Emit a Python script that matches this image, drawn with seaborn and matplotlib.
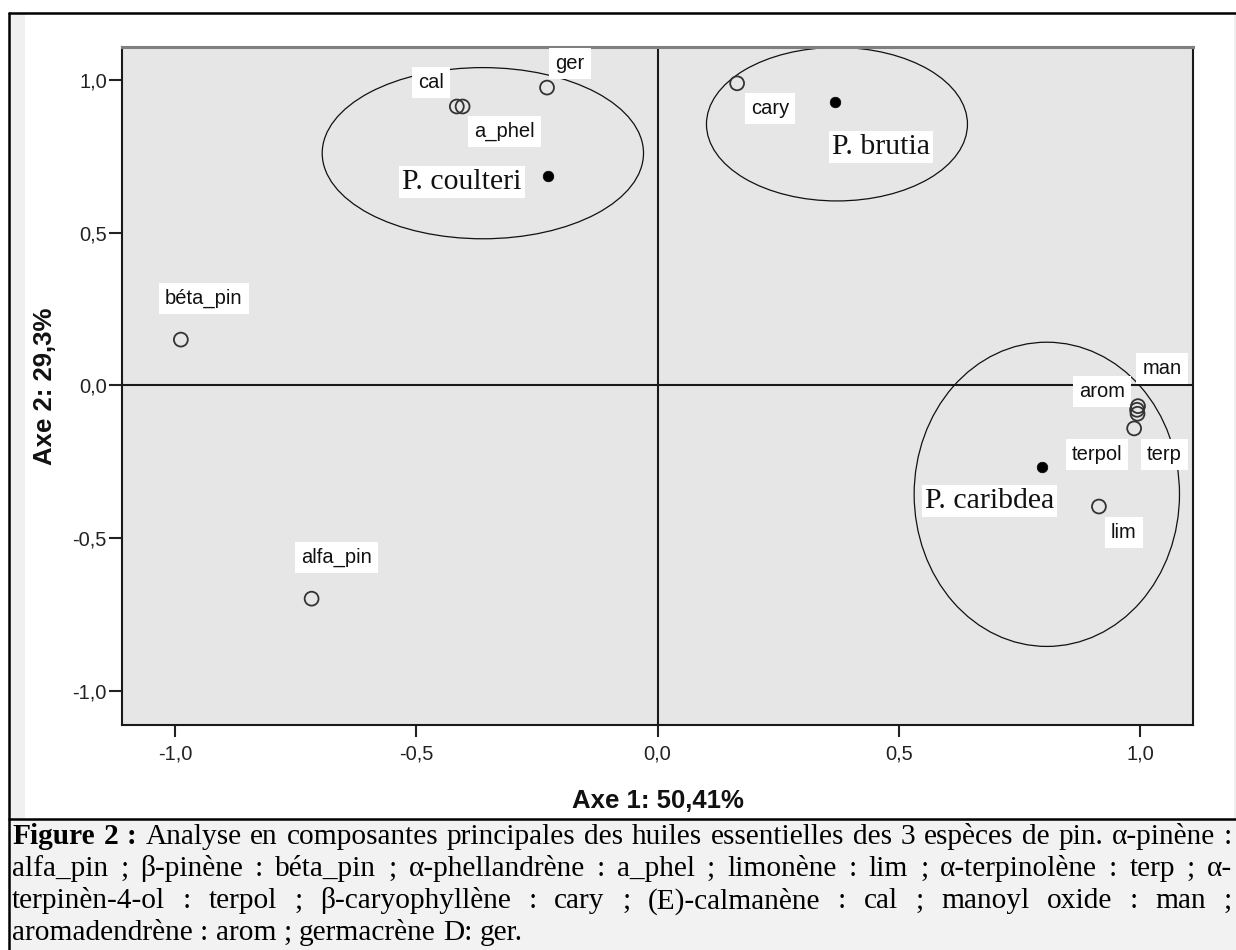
import matplotlib
matplotlib.use('Agg')
import matplotlib.pyplot as plt
import seaborn as sns
import pandas as pd
from matplotlib.patches import Ellipse, Rectangle
from matplotlib.lines import Line2D
from matplotlib.ticker import FuncFormatter, FixedLocator

# --- données ---
VAR_NAMES = ['alfa_pin', 'béta_pin', 'a_phel', 'lim', 'terp', 'terpol',
             'cary', 'cal', 'man', 'arom', 'ger']
VAR_AXE1 = [-0.717, -0.988, -0.404, 0.915, 0.995, 0.988,
            0.165, -0.416, 0.996, 0.994, -0.229]
VAR_AXE2 = [-0.699, 0.150, 0.914, -0.397, -0.093, -0.141,
            0.990, 0.914, -0.068, -0.080, 0.976]

ESPECES = ['P. coulteri', 'P. brutia', 'P. caribdea']
ESP_AXE1 = [-0.227, 0.367, 0.796]
ESP_AXE2 = [0.686, 0.929, -0.266]

# ellipses de regroupement (centre, largeur, hauteur en unités des axes)
ELL_X = [-0.362, 0.372, 0.807]
ELL_Y = [0.761, 0.856, -0.357]
ELL_W = [0.666, 0.541, 0.550]
ELL_H = [0.561, 0.503, 0.997]

TICKS = [-1.0, -0.5, 0.0, 0.5, 1.0]

CAPTION = [
    ([('Figure', 'bold'), ('2', 'bold'), (':', 'bold')] +
     [(w, 'normal') for w in 'Analyse en composantes principales des huiles '
      'essentielles des 3 espèces de pin. α-pinène :'.split()], True),
    ([(w, 'normal') for w in 'alfa_pin ; β-pinène : béta_pin ; α-phellandrène : '
      'a_phel ; limonène : lim ; α-terpinolène : terp ; α-'.split()], True),
    ([(w, 'normal') for w in 'terpinèn-4-ol : terpol ; β-caryophyllène : cary ; '
      '(E)-calmanène : cal ; manoyl oxide : man ;'.split()], True),
    ([(w, 'normal') for w in 'aromadendrène : arom ; germacrène D: ger.'.split()], False),
]

# décalages des étiquettes (pixels) par rapport au point
VAR_OFF = {'alfa_pin': (25, 41), 'béta_pin': (23, 41), 'a_phel': (42, -25),
           'lim': (25, -26), 'terp': (27, -41), 'terpol': (-37, -26),
           'cary': (33, -25), 'cal': (-26, 24), 'man': (24, 38),
           'arom': (-35, 18), 'ger': (23, 24)}
ESP_OFF = {'P. coulteri': (-86, -6), 'P. brutia': (46, -45), 'P. caribdea': (-52, -34)}

W, H, DPI = 1236, 950, 100
PX = 72 / DPI
SERIF = ['Liberation Serif', 'DejaVu Serif']

sns.set_style('ticks')
plt.rcParams['font.family'] = ['Liberation Sans', 'DejaVu Sans']

df_var = pd.DataFrame({'nom': VAR_NAMES, 'axe1': VAR_AXE1, 'axe2': VAR_AXE2})
df_esp = pd.DataFrame({'espece': ESPECES, 'axe1': ESP_AXE1, 'axe2': ESP_AXE2})

fig = plt.figure(figsize=(W / DPI, H / DPI), dpi=DPI)
fig.patch.set_facecolor('white')


def fx(px): return px / W
def fy(py): return 1 - py / H


# cadre de la figure (sous les axes)
for rect in [(9, 13, 16, 806), (1234, 13, 2, 806), (9, 819, W - 9, H - 819)]:
    x0, y0, rw, rh = rect
    fig.patches.append(Rectangle((fx(x0), fy(y0 + rh)), fx(rw), rh / H,
                                 transform=fig.transFigure,
                                 fc='#f0f0f0' if y0 < 819 else '#f2f2f2',
                                 ec='none', zorder=-2))
for xs, ys in [([9, W], [13, 13]), ([9, 9], [13, H]), ([9, W], [819, 819])]:
    fig.lines.append(Line2D([fx(v) for v in xs], [fy(v) for v in ys],
                            transform=fig.transFigure, color='black', lw=1.8,
                            zorder=-1))

ax = fig.add_axes([fx(122), fy(725), fx(1193) - fx(122), fy(47) - fy(725)])
ax.set_facecolor('#e6e6e6')

for cx, cy, w, h in zip(ELL_X, ELL_Y, ELL_W, ELL_H):
    ax.add_patch(Ellipse((cx, cy), w, h, fill=False, ec='#111111', lw=0.9, zorder=2))

ax.axhline(0, color='#1a1a1a', lw=1.5, zorder=1)
ax.axvline(0, color='#1a1a1a', lw=1.5, zorder=1)

sns.scatterplot(data=df_var, x='axe1', y='axe2', ax=ax, marker='o', s=100,
                facecolors='none', edgecolors='#333333', linewidth=1.3,
                legend=False, zorder=4)
sns.scatterplot(data=df_esp, x='axe1', y='axe2', ax=ax, marker='o', s=58,
                color='black', edgecolor='black', linewidth=0.5,
                legend=False, zorder=4)

for _, r in df_var.iterrows():
    dx, dy = VAR_OFF[r['nom']]
    ax.annotate(r['nom'], (r['axe1'], r['axe2']), xytext=(dx * PX, dy * PX),
                textcoords='offset points', ha='center', va='center',
                fontsize=14.5, color='#111111', zorder=3,
                bbox=dict(boxstyle='square,pad=0.3', fc='white', ec='none'))

for _, r in df_esp.iterrows():
    dx, dy = ESP_OFF[r['espece']]
    ax.annotate(r['espece'], (r['axe1'], r['axe2']), xytext=(dx * PX, dy * PX),
                textcoords='offset points', ha='center', va='center',
                fontsize=21.5, family=SERIF, color='#111111', zorder=5,
                bbox=dict(boxstyle='square,pad=0.1', fc='white', ec='none'))

ax.set_xlim(-1.11, 1.11)
ax.set_ylim(-1.113, 1.109)
ax.xaxis.set_major_locator(FixedLocator(TICKS))
ax.yaxis.set_major_locator(FixedLocator(TICKS))
fmt = FuncFormatter(lambda v, p: '{:.1f}'.format(v).replace('.', ','))
ax.xaxis.set_major_formatter(fmt)
ax.yaxis.set_major_formatter(fmt)
ax.tick_params(axis='x', length=12 * PX, width=1.5, pad=7 * PX, labelsize=14.5,
               colors='#222222')
ax.tick_params(axis='y', length=13 * PX, width=1.5, pad=2 * PX, labelsize=14.5,
               colors='#222222')

for side in ['left', 'bottom', 'right']:
    ax.spines[side].set_color('#1a1a1a')
    ax.spines[side].set_linewidth(1.5)
ax.spines['top'].set_color('#808080')
ax.spines['top'].set_linewidth(2.2)

ax.set_xlabel('Axe 1: 50,41%', fontsize=18.5, fontweight='bold', color='#111111')
ax.set_ylabel('Axe 2: 29,3%', fontsize=18.5, fontweight='bold', color='#111111')
ax.xaxis.set_label_coords(0.5, (725 - 789) / 678)
ax.yaxis.set_label_coords((57 - 122) / 1071, 0.5)

# légende justifiée, taille ajustée pour que la 1re ligne remplisse la largeur
renderer = fig.canvas.get_renderer()
LINE_Y = [837, 869, 901, 933]
X0, X1 = 12, 1232


def word_widths(tokens, size):
    objs, widths = [], []
    for word, weight in tokens:
        t = fig.text(0, 0, word, fontsize=size, fontweight=weight, family=SERIF,
                     ha='left', va='center', color='black')
        widths.append(t.get_window_extent(renderer).width)
        objs.append(t)
    return objs, widths


probe, pw = word_widths(CAPTION[0][0], 10)
space10 = 0.25 * 10 / PX
natural = sum(pw) + space10 * (len(pw) - 1)
for t in probe:
    t.remove()
CAP_FS = 10 * (X1 - X0) / natural * 0.985

for (tokens, justify), yy in zip(CAPTION, LINE_Y):
    objs, widths = word_widths(tokens, CAP_FS)
    if justify:
        gap = ((X1 - X0) - sum(widths)) / (len(tokens) - 1)
    else:
        gap = 0.25 * CAP_FS / PX
    x = X0
    for t, w in zip(objs, widths):
        t.set_position((fx(x), fy(yy)))
        x += w + gap

fig.savefig('out.png', dpi=DPI)
